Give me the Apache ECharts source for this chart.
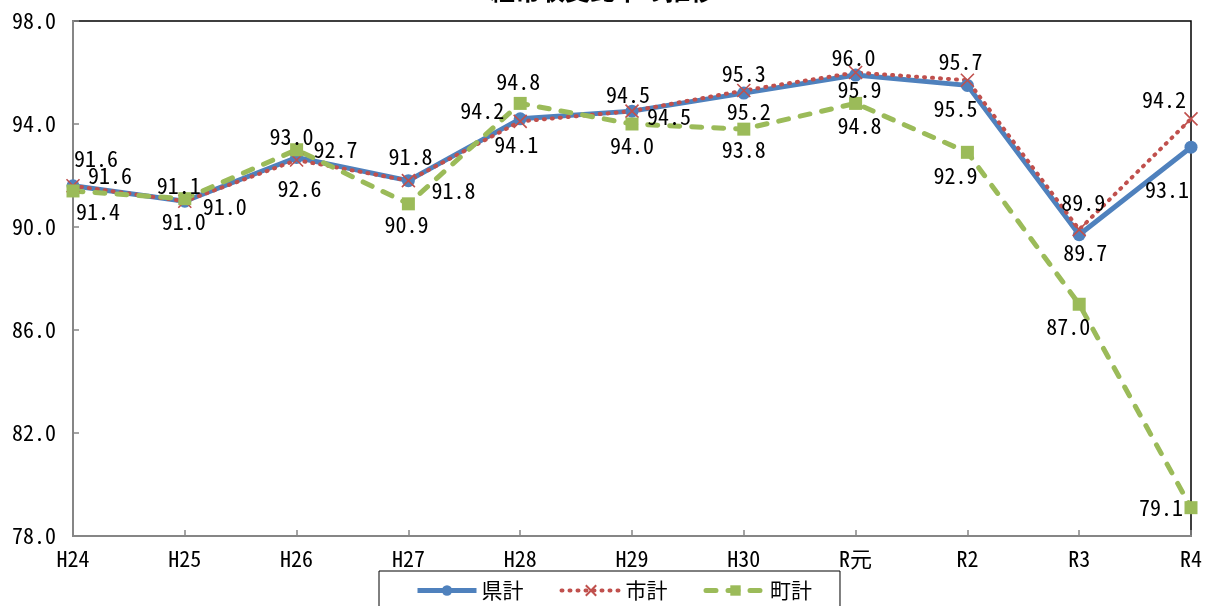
<!DOCTYPE html>
<html>
<head>
<meta charset="utf-8">
<script src="https://cdn.jsdelivr.net/npm/echarts@6/dist/echarts.min.js"></script>
<style>
html,body{margin:0;padding:0;background:#fff;}
#chart{width:1205px;height:606px;}
</style>
</head>
<body>
<div id="chart"></div>
<script>
const categories = ['H24','H25','H26','H27','H28','H29','H30','R元','R2','R3','R4'];
const kenkei = [91.6, 91.0, 92.7, 91.8, 94.2, 94.5, 95.2, 95.9, 95.5, 89.7, 93.1];
const shikei = [91.6, 91.0, 92.6, 91.8, 94.1, 94.5, 95.3, 96.0, 95.7, 89.9, 94.2];
const chokei = [91.4, 91.1, 93.0, 90.9, 94.8, 94.0, 93.8, 94.8, 92.9, 87.0, 79.1];
const seriesNames = ['県計', '市計', '町計'];

// label offsets (pixels from marker centre) – style only
const kenOff = [[23,-27],[-1,20],[39,-8],[2,-24],[-38,-8],[-4,-16],[5,19],[4,15],[-12,23],[6,18],[-24,42]];
const shiOff = [[37,-10],[40,5],[3,29],[45,10],[-4,23],[37,6],[0,-17],[-2,-15],[-7,-19],[4,-27],[-27,-19]];
const choOff = [[25,21],[-6,-13],[-5,-13],[-2,21],[-2,-22],[0,22],[0,20],[4,22],[-12,23],[-11,22],[-30,0]];

const numFont = "'Noto Sans Mono CJK JP', 'Noto Sans CJK JP', monospace";
const jpFont = "'Noto Sans CJK JP', sans-serif";

function withLabels(values, offs) {
  return values.map((v, i) => ({
    value: v,
    label: { offset: offs[i] }
  }));
}

const labelBase = {
  show: true,
  position: 'inside',
  color: '#000',
  fontFamily: numFont,
  fontSize: 22,
  formatter: p => Number(p.value).toFixed(1)
};

const chart = echarts.init(document.getElementById('chart'));
chart.setOption({
  animation: false,
  title: {
    text: '経常収支比率の推移',
    left: 'center',
    top: -27,
    textStyle: { fontFamily: jpFont, fontSize: 25, fontWeight: 'bold', color: '#000' }
  },
  grid: {
    left: 73, right: 14, top: 21, bottom: 70,
    show: true, borderColor: '#000', borderWidth: 1.5, backgroundColor: 'transparent'
  },
  legend: {
    left: 379,
    top: 571,
    padding: [9, 28, 30, 36],
    borderColor: '#000',
    borderWidth: 1,
    itemWidth: 59,
    itemHeight: 13,
    itemGap: 36,
    textStyle: { fontFamily: jpFont, fontSize: 21, color: '#000' },
    lineStyle: { width: 'inherit' },
    data: seriesNames
  },
  xAxis: {
    type: 'category',
    data: categories,
    boundaryGap: false,
    axisLine: { lineStyle: { color: '#868686', width: 2 } },
    axisTick: { show: true, inside: true, length: 6, interval: 0, lineStyle: { color: '#868686', width: 1.5 } },
    axisLabel: { color: '#000', fontFamily: numFont, fontSize: 22, margin: 12, interval: 0 },
    splitLine: { show: false }
  },
  yAxis: {
    type: 'value',
    min: 78, max: 98, interval: 4,
    axisLine: { show: true, lineStyle: { color: '#868686', width: 2 } },
    axisTick: { show: true, inside: true, length: 6, lineStyle: { color: '#868686', width: 1.5 } },
    axisLabel: { color: '#000', fontFamily: numFont, fontSize: 22, margin: 17, formatter: v => v.toFixed(1) },
    splitLine: { show: false }
  },
  series: [
    {
      name: seriesNames[0],
      type: 'line',
      data: withLabels(kenkei, kenOff),
      symbol: 'circle',
      symbolSize: 13,
      lineStyle: { color: '#4F81BD', width: 5 },
      itemStyle: { color: '#4F81BD' },
      label: labelBase
    },
    {
      name: seriesNames[1],
      type: 'line',
      data: withLabels(shikei, shiOff),
      symbol: 'path://M0,0L10,10M10,0L0,10',
      symbolSize: 13,
      lineStyle: { color: '#C0504D', width: 4, type: [1, 7], cap: 'round' },
      itemStyle: { color: '#C0504D', borderColor: '#C0504D', borderWidth: 1.6 },
      label: labelBase
    },
    {
      name: seriesNames[2],
      type: 'line',
      data: withLabels(chokei, choOff),
      symbol: 'rect',
      symbolSize: 13,
      lineStyle: { color: '#9BBB59', width: 5, type: [10, 12], cap: 'round' },
      itemStyle: { color: '#9BBB59' },
      label: labelBase
    }
  ]
});
</script>
</body>
</html>
